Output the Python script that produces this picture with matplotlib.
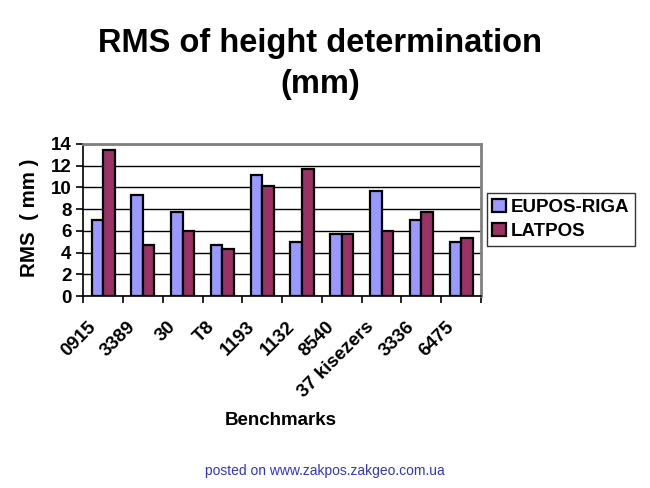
import numpy as np
import matplotlib
matplotlib.use("Agg")
import matplotlib.pyplot as plt
import matplotlib.transforms as mtransforms

# Benchmarks and RMS values (mm)
benchmarks = ["0915", "3389", "30", "T8", "1193", "1132", "8540",
              "37 kisezers", "3336", "6475"]
eupos_riga = [7.0, 9.3, 7.7, 4.7, 11.1, 5.0, 5.7, 9.7, 7.0, 5.0]
latpos = [13.4, 4.7, 6.0, 4.35, 10.1, 11.7, 5.7, 6.0, 7.7, 5.35]

plt.rcParams['font.family'] = ['Liberation Sans', 'DejaVu Sans']
plt.rcParams['font.weight'] = 'bold'
FS = 13.5

fig = plt.figure(figsize=(6.5, 4.88), dpi=100)
ax = fig.add_axes([0.128, 0.393, 0.612, 0.312])

x = np.arange(len(benchmarks))
w = 0.29
ax.bar(x - w / 2, eupos_riga, w, color='#9999FF', edgecolor='black',
       linewidth=1.6, label='EUPOS-RIGA', zorder=3)
ax.bar(x + w / 2, latpos, w, color='#993366', edgecolor='black',
       linewidth=1.6, label='LATPOS', zorder=3)

# Axes and grid
ax.set_xlim(-0.5, len(benchmarks) - 0.5)
ax.set_ylim(0, 14)
ax.set_yticks(np.arange(0, 15, 2))
ax.yaxis.grid(True, color='black', linewidth=1.0, zorder=0)
ax.set_xticks(np.arange(-0.5, len(benchmarks), 1.0), minor=False)
ax.set_xticklabels([])
ax.set_xticks(x, minor=True)
ax.set_xticklabels(benchmarks, minor=True, rotation=45, ha='right',
                   va='center', rotation_mode='anchor', fontsize=FS,
                   fontweight='bold')
ax.tick_params(axis='x', which='minor', length=0, pad=20)
ax.tick_params(axis='x', which='major', length=5, width=1.2, direction='out')
ax.tick_params(axis='y', length=5, width=1.2, labelsize=FS)
for lab in ax.get_yticklabels():
    lab.set_fontweight('bold')

# shift the rotated category labels left, as in the original
shift = mtransforms.ScaledTranslation(-0.10, 0, fig.dpi_scale_trans)
for lab in ax.get_xticklabels(minor=True):
    lab.set_transform(lab.get_transform() + shift)

for side in ['top', 'right']:
    ax.spines[side].set_color('#808080')
    ax.spines[side].set_linewidth(2)
for side in ['left', 'bottom']:
    ax.spines[side].set_color('black')
    ax.spines[side].set_linewidth(1.2)

fig.text(0.045, 0.553, "RMS  ( mm )", rotation=90, ha='center', va='center',
         fontsize=14.8, fontweight='bold')
fig.text(0.432, 0.139, "Benchmarks", ha='center', va='center',
         fontsize=FS, fontweight='bold')

fig.text(0.492, 0.893, "RMS of height determination", ha='center',
         va='baseline', fontsize=23.5, fontweight='bold')
fig.text(0.492, 0.809, "(mm)", ha='center', va='baseline', fontsize=23.5,
         fontweight='bold')

leg = fig.legend(loc='center left', bbox_to_anchor=(0.749, 0.55),
                 frameon=True, fancybox=False, handlelength=0.7,
                 handleheight=0.7, handletextpad=0.3, borderpad=0.3,
                 labelspacing=0.4, borderaxespad=0,
                 prop={'weight': 'bold', 'size': FS})
leg.get_frame().set_edgecolor('black')
leg.get_frame().set_linewidth(1.0)

fig.text(0.5, 0.02, "posted on www.zakpos.zakgeo.com.ua", ha='center',
         va='bottom', fontsize=10, color='#3333CC', fontweight='normal')

fig.savefig("out.png", dpi=100)
